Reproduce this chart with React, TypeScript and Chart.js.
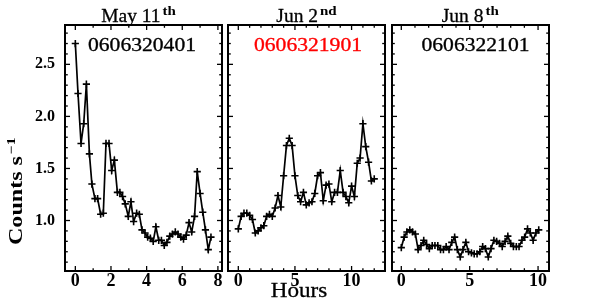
import React, { useEffect, useRef } from 'react';
import { Chart, registerables } from 'chart.js';

Chart.register(...registerables);

const FIG_W = 598;
const FIG_H = 306;
const SERIF = '"Liberation Serif", "Times New Roman", serif';

// ---------------- data ----------------
const may11Hours = [0.00, 0.15, 0.32, 0.47, 0.62, 0.79, 0.93, 1.10, 1.25, 1.42, 1.57, 1.72, 1.89, 2.04, 2.19, 2.36, 2.50, 2.65, 2.80, 2.97, 3.12, 3.27, 3.44, 3.59, 3.74, 3.91, 4.06, 4.21, 4.37, 4.52, 4.68, 4.83, 4.99, 5.14, 5.30, 5.45, 5.61, 5.76, 5.92, 6.07, 6.22, 6.38, 6.53, 6.69, 6.84, 7.00, 7.15, 7.30, 7.46, 7.61];
const may11Counts = [2.70, 2.22, 1.74, 1.93, 2.31, 1.64, 1.35, 1.21, 1.21, 1.06, 1.07, 1.74, 1.74, 1.48, 1.58, 1.27, 1.27, 1.23, 1.16, 1.04, 1.18, 0.99, 1.07, 1.06, 0.91, 0.88, 0.84, 0.83, 0.80, 0.94, 0.81, 0.81, 0.76, 0.79, 0.85, 0.87, 0.89, 0.87, 0.84, 0.82, 0.86, 0.98, 0.89, 1.04, 1.47, 1.26, 1.08, 0.91, 0.72, 0.84];

const jun2Hours = [0.00, 0.25, 0.50, 0.75, 1.00, 1.25, 1.50, 1.75, 2.00, 2.25, 2.50, 2.75, 3.00, 3.25, 3.50, 3.75, 4.00, 4.25, 4.50, 4.75, 5.00, 5.25, 5.50, 5.75, 6.00, 6.25, 6.50, 6.75, 7.00, 7.25, 7.50, 7.75, 8.00, 8.25, 8.50, 8.75, 9.00, 9.25, 9.50, 9.75, 10.00, 10.25, 10.50, 10.75, 11.00, 11.25, 11.50, 11.75, 12.00];
const jun2Counts = [0.92, 1.04, 1.07, 1.07, 1.05, 1.01, 0.88, 0.90, 0.93, 0.95, 1.04, 1.06, 1.04, 1.12, 1.24, 1.13, 1.43, 1.72, 1.79, 1.72, 1.43, 1.24, 1.18, 1.27, 1.15, 1.17, 1.18, 1.26, 1.43, 1.46, 1.19, 1.34, 1.35, 1.18, 1.27, 1.27, 1.48, 1.27, 1.23, 1.17, 1.33, 1.23, 1.55, 1.60, 1.93, 1.71, 1.56, 1.38, 1.40];

const jun8Hours = [0.00, 0.21, 0.41, 0.62, 0.82, 1.03, 1.23, 1.44, 1.64, 1.85, 2.05, 2.26, 2.46, 2.67, 2.87, 3.08, 3.28, 3.49, 3.69, 3.90, 4.10, 4.31, 4.51, 4.72, 4.92, 5.13, 5.33, 5.54, 5.74, 5.95, 6.15, 6.36, 6.56, 6.77, 6.97, 7.18, 7.38, 7.59, 7.79, 8.00, 8.20, 8.41, 8.61, 8.82, 9.02, 9.23, 9.43, 9.64, 9.84, 10.05];
const jun8Counts = [0.74, 0.84, 0.89, 0.91, 0.89, 0.87, 0.72, 0.76, 0.81, 0.77, 0.73, 0.76, 0.76, 0.76, 0.72, 0.72, 0.75, 0.72, 0.79, 0.84, 0.72, 0.65, 0.72, 0.79, 0.70, 0.69, 0.68, 0.68, 0.70, 0.75, 0.73, 0.65, 0.73, 0.81, 0.80, 0.78, 0.75, 0.80, 0.85, 0.78, 0.75, 0.75, 0.75, 0.81, 0.84, 0.92, 0.88, 0.81, 0.88, 0.91];

const panelDates = ['May 11', 'Jun 2', 'Jun 8'];
const panelOrdinals = ['th', 'nd', 'th'];
const obsIds = ['0606320401', '0606321901', '0606322101'];
const obsIdColors = ['#000000', '#ff0000', '#000000'];

const countTicks = [1.0, 1.5, 2.0, 2.5];
const may11HourTicks = [0, 2, 4, 6, 8];
const jun2HourTicks = [0, 5, 10];
const jun8HourTicks = [0, 5, 10];

const yAxisLabel = 'Counts s';
const yAxisLabelSup = '\u22121';
const xAxisLabel = 'Hours';

// ---------------- layout (positions / styles only) ----------------
const PLOT_TOP = 25;
const PLOT_BOTTOM = 271;
const Y_MIN = 0.515;
const Y_MAX = 2.878;

type PanelSpec = {
  hours: number[];
  counts: number[];
  xTicks: number[];
  date: string;
  ordinal: string;
  obsId: string;
  obsColor: string;
  left: number;
  right: number;
  xMin: number;
  xMax: number;
  titleCx: number;
  idCx: number;
  showY: boolean;
  showXLabel: boolean;
};

const panels: PanelSpec[] = [
  { hours: may11Hours, counts: may11Counts, xTicks: may11HourTicks, date: panelDates[0], ordinal: panelOrdinals[0], obsId: obsIds[0], obsColor: obsIdColors[0], left: 65, right: 222, xMin: -0.58, xMax: 8.23, titleCx: 138.5, idCx: 142, showY: true, showXLabel: false },
  { hours: jun2Hours, counts: jun2Counts, xTicks: jun2HourTicks, date: panelDates[1], ordinal: panelOrdinals[1], obsId: obsIds[1], obsColor: obsIdColors[1], left: 228, right: 385, xMin: -0.91, xMax: 12.95, titleCx: 306.5, idCx: 308, showY: false, showXLabel: true },
  { hours: jun8Hours, counts: jun8Counts, xTicks: jun8HourTicks, date: panelDates[2], ordinal: panelOrdinals[2], obsId: obsIds[2], obsColor: obsIdColors[2], left: 392, right: 549, xMin: -0.68, xMax: 10.8, titleCx: 470.3, idCx: 475.5, showY: false, showXLabel: false },
];

function drawScaledText(ctx: CanvasRenderingContext2D, text: string, x: number, y: number, font: string, sx: number, align: CanvasTextAlign, color: string, heavy = 0) {
  ctx.save();
  ctx.translate(x, y);
  ctx.scale(sx, 1);
  ctx.font = font;
  ctx.fillStyle = color;
  ctx.textAlign = align;
  ctx.textBaseline = 'alphabetic';
  ctx.fillText(text, 0, 0);
  if (heavy > 0) {
    ctx.strokeStyle = color;
    ctx.lineWidth = heavy;
    ctx.lineJoin = 'round';
    ctx.strokeText(text, 0, 0);
  }
  ctx.restore();
}

function Panel({ spec }: { spec: PanelSpec }) {
  const ref = useRef<HTMLCanvasElement>(null);

  useEffect(() => {
    const canvas = ref.current;
    if (!canvas) return;

    const framePlugin = {
      id: 'frameTicks',
      afterDatasetsDraw(chart: any) {
        const { ctx, chartArea: a, scales } = chart;
        const xs = scales.x;
        const ys = scales.y;
        ctx.save();
        ctx.strokeStyle = '#000';
        ctx.lineWidth = 1.3;
        const seg = (x1: number, y1: number, x2: number, y2: number) => {
          ctx.beginPath();
          ctx.moveTo(x1, y1);
          ctx.lineTo(x2, y2);
          ctx.stroke();
        };
        const maj = 5;
        const min = 2.8;
        for (let h = Math.ceil(spec.xMin); h <= Math.floor(spec.xMax); h++) {
          const isMajor = spec.xTicks.includes(h);
          const len = isMajor ? maj : min;
          const px = xs.getPixelForValue(h);
          seg(px, a.bottom, px, a.bottom - len);
          seg(px, a.top, px, a.top + len);
        }
        for (let k = Math.ceil(Y_MIN * 10); k <= Math.floor(Y_MAX * 10); k++) {
          const v = k / 10;
          const isMajor = countTicks.some((t) => Math.abs(t - v) < 1e-6);
          const len = isMajor ? maj : min;
          const py = ys.getPixelForValue(v);
          seg(a.left, py, a.left + len, py);
          seg(a.right, py, a.right - len, py);
        }
        ctx.lineWidth = 2;
        ctx.strokeRect(a.left, a.top, a.right - a.left, a.bottom - a.top);
        ctx.restore();
      },
      afterDraw(chart: any) {
        const ctx: CanvasRenderingContext2D = chart.ctx;
        const baseFont = `19.5px ${SERIF}`;
        const supFont = `bold 12.5px ${SERIF}`;
        const sx = 1.0;
        const ssx = 1.2;
        ctx.save();
        ctx.font = baseFont;
        const bw = ctx.measureText(spec.date).width * sx;
        ctx.font = supFont;
        const sw = ctx.measureText(spec.ordinal).width * ssx;
        ctx.restore();
        const gap = 2;
        const total = bw + gap + sw;
        const x0 = spec.titleCx - total / 2;
        drawScaledText(ctx, spec.date, x0, 22, baseFont, sx, 'left', '#000', 0.3);
        drawScaledText(ctx, spec.ordinal, x0 + bw + gap, 15.3, supFont, ssx, 'left', '#000');

        drawScaledText(ctx, spec.obsId, spec.idCx, 51, `18px ${SERIF}`, 1.2, 'center', spec.obsColor, 0.3);

        if (spec.showXLabel) {
          drawScaledText(ctx, xAxisLabel, 299, 296.5, `21px ${SERIF}`, 1.1, 'center', '#000', 0.3);
        }
        if (spec.showY) {
          ctx.save();
          ctx.translate(22.3, 245);
          ctx.rotate(-Math.PI / 2);
          ctx.scale(1.3, 1);
          ctx.fillStyle = '#000';
          ctx.textAlign = 'left';
          ctx.textBaseline = 'alphabetic';
          ctx.font = `bold 18.5px ${SERIF}`;
          ctx.fillText(yAxisLabel, 0, 0);
          const w = ctx.measureText(yAxisLabel).width;
          ctx.font = `bold 12px ${SERIF}`;
          ctx.fillText(yAxisLabelSup, w + 1.5, -7);
          ctx.restore();
        }
      },
    };

    const chart = new Chart(canvas, {
      type: 'line',
      data: {
        datasets: [
          {
            data: spec.hours.map((h, i) => ({ x: h, y: spec.counts[i] })),
            borderColor: '#000',
            borderWidth: 1.7,
            pointStyle: 'cross',
            pointRadius: 3.6,
            pointBorderWidth: 1.6,
            pointBorderColor: '#000',
            pointBackgroundColor: '#000',
            fill: false,
            tension: 0,
          },
        ],
      },
      options: {
        responsive: false,
        animation: false,
        devicePixelRatio: 1,
        events: [],
        layout: {
          padding: { left: 0, right: FIG_W - spec.right, top: PLOT_TOP, bottom: 0 },
        },
        plugins: {
          legend: { display: false },
          tooltip: { enabled: false },
          title: { display: false },
        },
        scales: {
          x: {
            type: 'linear',
            min: spec.xMin,
            max: spec.xMax,
            afterFit: (s: any) => {
              s.height = FIG_H - PLOT_BOTTOM;
            },
            afterBuildTicks: (s: any) => {
              s.ticks = spec.xTicks.map((v) => ({ value: v }));
            },
            grid: { display: false, drawTicks: false },
            border: { display: false },
            ticks: {
              color: '#000',
              font: { family: SERIF, size: 18, weight: 'bold' },
              padding: 0,
              maxRotation: 0,
              autoSkip: false,
              callback: (v: any) => String(v),
            },
          },
          y: {
            type: 'linear',
            min: Y_MIN,
            max: Y_MAX,
            afterFit: (s: any) => {
              s.width = spec.left;
            },
            afterBuildTicks: (s: any) => {
              s.ticks = countTicks.map((v) => ({ value: v }));
            },
            grid: { display: false, drawTicks: false },
            border: { display: false },
            ticks: {
              display: spec.showY,
              color: '#000',
              font: { family: SERIF, size: 16, weight: 'bold' },
              padding: 10,
              autoSkip: false,
              callback: (v: any) => Number(v).toFixed(1),
            },
          },
        },
      },
      plugins: [framePlugin],
    } as any);

    return () => chart.destroy();
  }, [spec]);

  return (
    <canvas
      ref={ref}
      width={FIG_W}
      height={FIG_H}
      style={{ position: 'absolute', left: 0, top: 0, width: FIG_W, height: FIG_H, pointerEvents: 'none' }}
    />
  );
}

export default function App() {
  return (
    <div style={{ position: 'absolute', left: 0, top: 0, width: FIG_W, height: FIG_H, background: '#fff' }}>
      {panels.map((p, i) => (
        <Panel key={i} spec={p} />
      ))}
    </div>
  );
}
